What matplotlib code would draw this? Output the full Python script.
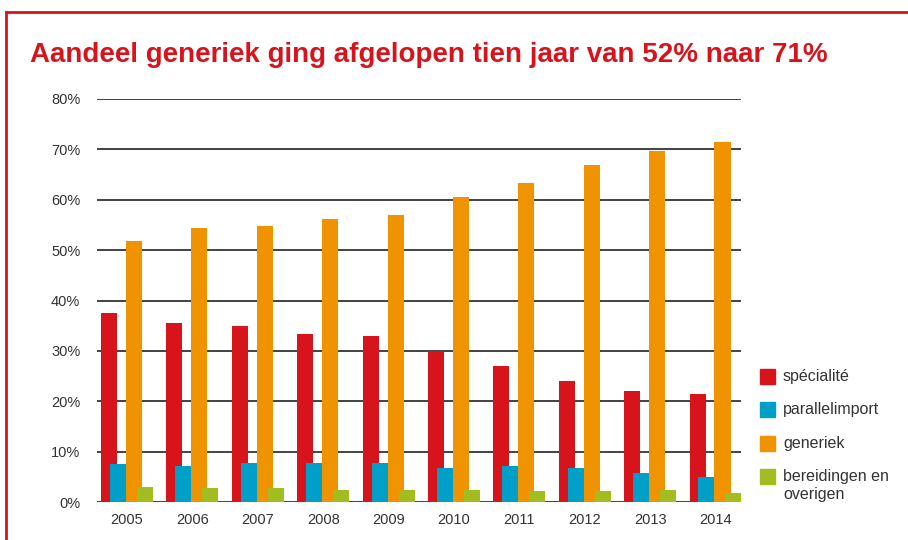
import numpy as np
import matplotlib.pyplot as plt
from matplotlib.patches import Rectangle
from matplotlib.lines import Line2D

years = ['2005', '2006', '2007', '2008', '2009', '2010', '2011', '2012', '2013', '2014']
specialite = [37.5, 35.5, 34.9, 33.3, 32.9, 30.0, 27.0, 24.0, 22.0, 21.4]
parallelimport = [7.5, 7.1, 7.7, 7.7, 7.7, 6.7, 7.1, 6.7, 5.8, 5.0]
generiek = [51.8, 54.4, 54.8, 56.2, 56.9, 60.5, 63.3, 66.9, 69.6, 71.4]
bereidingen = [3.0, 2.8, 2.8, 2.4, 2.4, 2.4, 2.2, 2.2, 2.4, 1.8]

labels = ['spécialité', 'parallelimport', 'generiek', 'bereidingen en\noverigen']
colors = ['#d7141c', '#009fc8', '#f09300', '#a2bd1f']
series = [specialite, parallelimport, generiek, bereidingen]
offsets = [-0.275, -0.138, 0.107, 0.275]

red = '#d7141c'
txt = '#333333'

fig = plt.figure(figsize=(9.08, 5.40), dpi=100)
ax = fig.add_axes([97/908, 1-502/540, (741-97)/908, (502-99)/540])

x = np.arange(len(years))
for vals, c, off in zip(series, colors, offsets):
    ax.bar(x + off, vals, width=0.245, color=c, zorder=3)

ax.set_ylim(0, 80)
ax.set_xlim(-0.46, 9.39)
ax.set_yticks(np.arange(0, 81, 10))
ax.set_yticklabels(['%d%%' % v for v in range(0, 81, 10)], color=txt,
                   fontsize=10.5, family='Liberation Sans')
ax.set_xticks(x)
ax.set_xticklabels(years, color=txt, fontsize=10.5, family='Liberation Sans')
ax.tick_params(length=0, pad=8)
ax.tick_params(axis='y', pad=12)
ax.yaxis.grid(True, color='#222222', linewidth=1.2, zorder=1)
ax.set_axisbelow(True)
for s in ax.spines.values():
    s.set_visible(False)

# manual legend
rows = [369, 402, 436, 469]
for lab, c, y in zip(labels, colors, rows):
    fig.patches.append(Rectangle((760/908, 1-(y+15)/540), 15/908, 15/540,
                                 transform=fig.transFigure, color=c))
    fig.text(783/908, 1-(y)/540, lab, color=txt, fontsize=11.5,
             family='Liberation Sans', va='top', ha='left', linespacing=1.25)

# red frame
fig.lines.append(Line2D([6/908, 1], [1-12/540, 1-12/540], transform=fig.transFigure,
                        color=red, linewidth=2))
fig.lines.append(Line2D([6/908, 6/908], [0, 1-12/540], transform=fig.transFigure,
                        color=red, linewidth=2))

fig.text(30/908, 1-62/540, 'Aandeel generiek ging afgelopen tien jaar van 52% naar 71%',
         color=red, fontsize=20, fontweight='bold', family='Liberation Sans',
         ha='left', va='baseline')

fig.savefig('out.png', dpi=100)
